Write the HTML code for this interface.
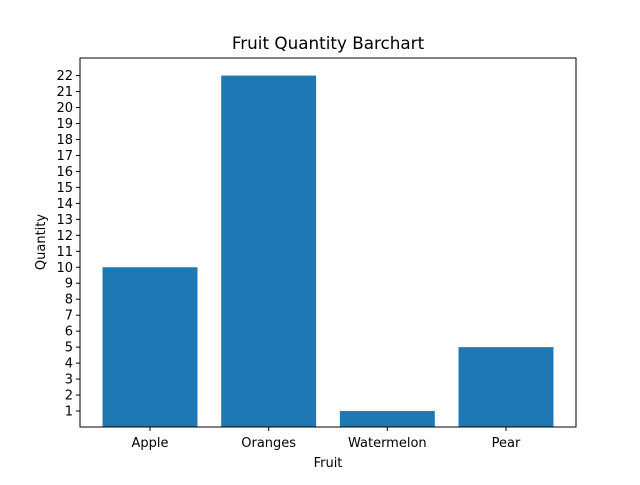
<!DOCTYPE html>
<html><head><meta charset="utf-8"><style>
body{margin:0;background:#fff}
svg text{font-family:"DejaVu Sans","Liberation Sans",sans-serif;fill:#000}
</style></head><body>
<svg id="chart" width="640" height="480" viewBox="0 0 640 480">
<rect width="640" height="480" fill="#fff"/>
<text x="328" y="49" font-size="16.8" text-anchor="middle">Fruit Quantity Barchart</text>
<g id="bars"></g>
<g id="xticks"></g>
<g id="yticks"></g>
<rect x="80" y="58" width="496" height="369" fill="none" stroke="#000" stroke-width="1"/>
<text x="328" y="467" font-size="13" text-anchor="middle">Fruit</text>
<text transform="translate(45,242) rotate(-90)" font-size="13" text-anchor="middle">Quantity</text>
</svg>
<script>
const categories=["Apple","Oranges","Watermelon","Pear"];
const values=[10,22,1,5];
const yTicks=[1,2,3,4,5,6,7,8,9,10,11,12,13,14,15,16,17,18,19,20,21,22];
const L=80,R=576,T=58,B=427;
const ymax=Math.max(...values)*1.05;
const y=v=>B-(v/ymax)*(B-T);
const n=categories.length;
const xmin=-0.4-0.05*(n-1+0.8),xmax=n-1+0.4+0.05*(n-1+0.8);
const x=v=>L+(v-xmin)/(xmax-xmin)*(R-L);
const ns="http://www.w3.org/2000/svg";
const bars=document.getElementById('bars'),xt=document.getElementById('xticks'),yt=document.getElementById('yticks');
values.forEach((v,i)=>{
 const r=document.createElementNS(ns,'rect');
 r.setAttribute('x',x(i-0.4));r.setAttribute('width',x(i+0.4)-x(i-0.4));
 r.setAttribute('y',y(v));r.setAttribute('height',B-y(v));r.setAttribute('fill','#1f77b4');
 
 
 bars.appendChild(r);
 const l=document.createElementNS(ns,'line');
 l.setAttribute('x1',x(i));l.setAttribute('x2',x(i));l.setAttribute('y1',B);l.setAttribute('y2',B+4);l.setAttribute('stroke','#000');
 
 
 xt.appendChild(l);
 const t=document.createElementNS(ns,'text');
 t.setAttribute('x',x(i));t.setAttribute('y',B+20);t.setAttribute('font-size','13');t.setAttribute('text-anchor','middle');
 t.textContent=categories[i];
 
 
 xt.appendChild(t);
});
yTicks.forEach(v=>{
 const l=document.createElementNS(ns,'line');
 l.setAttribute('x1',L-4);l.setAttribute('x2',L);l.setAttribute('y1',y(v));l.setAttribute('y2',y(v));l.setAttribute('stroke','#000');
 
 
 yt.appendChild(l);
 const t=document.createElementNS(ns,'text');
 t.setAttribute('x',L-7);t.setAttribute('y',y(v)+4.5);t.setAttribute('font-size','13');t.setAttribute('text-anchor','end');
 t.textContent=v;
 
 
 yt.appendChild(t);
});
</script>
</body></html>
